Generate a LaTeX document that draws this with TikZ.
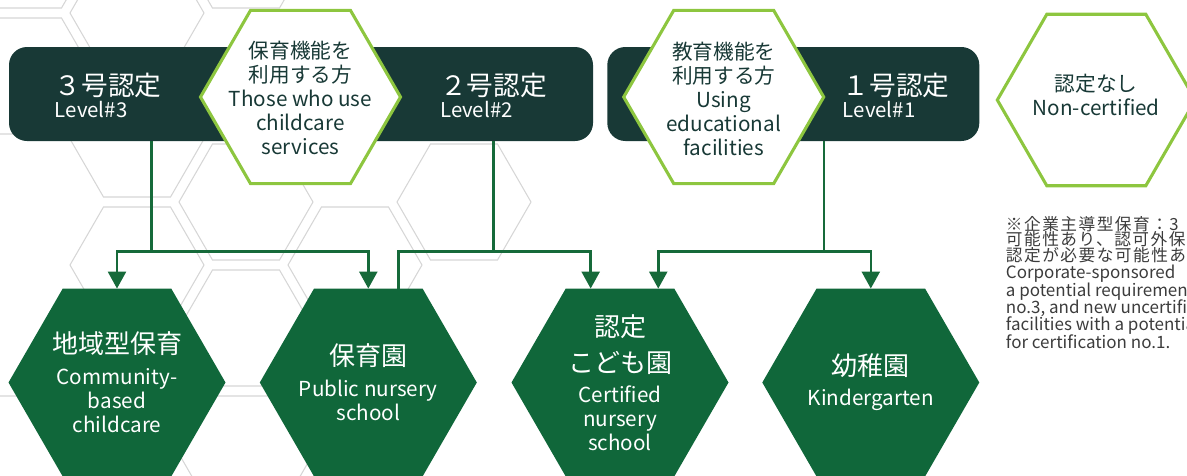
\documentclass[tikz,border=0pt]{standalone}
\usepackage{fontspec}
\setmainfont{Noto Sans CJK JP}
\newfontfamily\notejpfont{Noto Sans CJK JP}[LetterSpace=9]
\usetikzlibrary{arrows.meta, positioning}

\definecolor{bardark}{RGB}{24,57,54}
\definecolor{lime}{RGB}{141,198,63}
\definecolor{hexgreen}{RGB}{16,103,58}
\definecolor{linkgreen}{RGB}{22,106,58}
\definecolor{bggray}{RGB}{214,214,214}
\definecolor{notegray}{RGB}{60,60,60}

% sizes of the Japanese lines
\newcommand\barjp{\fontsize{20pt}{16.5pt}\selectfont}
\newcommand\wjp{\fontsize{15.5pt}{18pt}\selectfont}
\newcommand\gjp{\fontsize{19.5pt}{18pt}\selectfont}
\newcommand\notejp{\notejpfont\fontsize{12.5pt}{13pt}\selectfont}

% flat topped hexagon: style, centre x, centre y, radius (px)
\newcommand\hexagon[4]{%
  \path[#1] (#2,#3) +(0:#4) -- +(60:#4) -- +(120:#4) -- +(180:#4)
            -- +(240:#4) -- +(300:#4) -- cycle;}

\begin{document}
\lineskiplimit=-20pt % keep the line pitch fixed
\begin{tikzpicture}[
      x = 0.75pt, y = -0.75pt,     % one unit = one pixel of the layout
      > = {Triangle[length=12.75pt, width=13.5pt]}, % arrow head style
      semithick
    ]

    \tikzstyle{BG}=[      % honeycomb in the back
      draw = bggray,
      line width = 0.8pt
    ]

    \tikzstyle{BAR}=[     % dark rounded bar
      fill = bardark,
      rounded corners = 13.5pt,
      minimum height = 70.5pt,
      inner sep = 0pt, outer sep = 0pt
    ]

    \tikzstyle{LV}=[      % level text in the bar
      text = white, align = left, anchor = west,
      inner sep = 0pt,
      font = \fontsize{15.3pt}{16.5pt}\selectfont
    ]

    \tikzstyle{WHEX}=[    % white hexagon, green border
      draw = lime, line width = 2.3pt, fill = white
    ]

    \tikzstyle{WT}=[      % text of a white hexagon
      minimum width = 150pt, minimum height = 129.9pt,
      text = bardark, align = center,
      inner sep = 0pt, outer sep = 0pt,
      font = \fontsize{15.5pt}{18pt}\selectfont
    ]

    \tikzstyle{GHEX}=[    % green hexagon
      fill = hexgreen
    ]

    \tikzstyle{GT}=[      % text of a green hexagon
      minimum width = 162.75pt, minimum height = 140.9pt,
      text = white, align = center,
      inner sep = 0pt, outer sep = 0pt,
      font = \fontsize{15.5pt}{18pt}\selectfont
    ]

    \tikzstyle{LINK}=[    % connectors
      draw = linkgreen,
      line width = 1.9pt
    ]

    \tikzstyle{NOTE}=[    % footnote on the right
      text = notegray, align = left, anchor = north west,
      inner sep = 0pt,
      font = \fontsize{12.75pt}{13pt}\selectfont
    ]

    \useasboundingbox (0,0) rectangle (1187,475);
    \clip (0,0) rectangle (1187,475);

    % Background honeycomb
    \foreach \cx/\cy in {28/-50, 137/13, 246/-50, 28/76, 137/139, 137/265,
                         246/202, 246/328, 355/265, 464/202, 28/454,
                         246/454, 137/391, 355/391}
      {\hexagon{BG}{\cx}{\cy}{67}}

    % Definition of the nodes
    \node[BAR, minimum width = 438pt] (bar1) at (301,94) {};
    \node[BAR, minimum width = 279pt] (bar2) at (793.3,94) {};

    \node[LV] (lv3) at (54.5,95) {{\barjp ３号認定}\\Level\#3};
    \node[LV] (lv2) at (439.8,95) {{\barjp ２号認定}\\Level\#2};
    \node[LV] (lv1) at (842.5,95) {{\barjp １号認定}\\Level\#1};

    \hexagon{WHEX}{300.5}{97}{100}
    \hexagon{WHEX}{723.7}{97}{100}
    \hexagon{WHEX}{1096.3}{100}{99}

    \node[WT] (care) at (300.5,98)
      {{\wjp 保育機能を}\\{\wjp 利用する方}\\Those who use\\childcare\\services};
    \node[WT] (edu) at (723.7,99)
      {{\wjp 教育機能を}\\{\wjp 利用する方}\\Using\\educational\\facilities};
    \node[WT] (none) at (1096.3,94.5)
      {{\wjp 認定なし}\\Non-certified};

    \foreach \cx in {117, 368.3, 620, 870.8}
      {\hexagon{GHEX}{\cx}{382.5}{108.5}}

    \node[GT] (h1) at (117,382.5)
      {{\gjp 地域型保育}\\[5pt]Community-\\based\\childcare};
    \node[GT] (h2) at (368.3,382.5)
      {{\gjp 保育園}\\[5pt]Public nursery\\school};
    \node[GT] (h3) at (620,382.5)
      {{\gjp 認定}\\[9pt]{\gjp こども園}\\[4.5pt]Certified\\nursery\\school};
    \node[GT] (h4) at (870.8,382.5)
      {{\gjp 幼稚園}\\[4.5pt]Kindergarten};

    \node[NOTE] (note) at (1005.5,216)
      {{\notejp ※企業主導型保育：3}\\[-1.4pt]
       {\notejp 可能性あり、認可外保}\\[-1.4pt]
       {\notejp 認定が必要な可能性あ}\\
       Corporate-sponsored\\
       a potential requirement\\
       no.3, and new uncertified\\
       facilities with a potential\\
       for certification no.1.};

    % Definition of the edges
    \coordinate (j3) at (151.7,251.7);
    \coordinate (j2) at (493.3,251.7);
    \coordinate (j1) at (824,251.7);

    \draw[LINK] (bar1.south -| j3) -- (j3);
    \draw[LINK,->] (j3) -| (h1.north);
    \draw[LINK,->] (j3) -| (h2.north);

    \draw[LINK] (bar1.south -| j2) -- (j2);
    \draw[LINK] (j2) -| ([xshift=22.5pt]h2.north);
    \draw[LINK,->] (j2) -| ([xshift=-22pt]h3.north);

    \draw[LINK] (bar2.south -| j1) -- (j1);
    \draw[LINK,->] (j1) -| ([xshift=28.7pt]h3.north);
    \draw[LINK,->] (j1) -| (h4.north);

  \end{tikzpicture}
\end{document}
